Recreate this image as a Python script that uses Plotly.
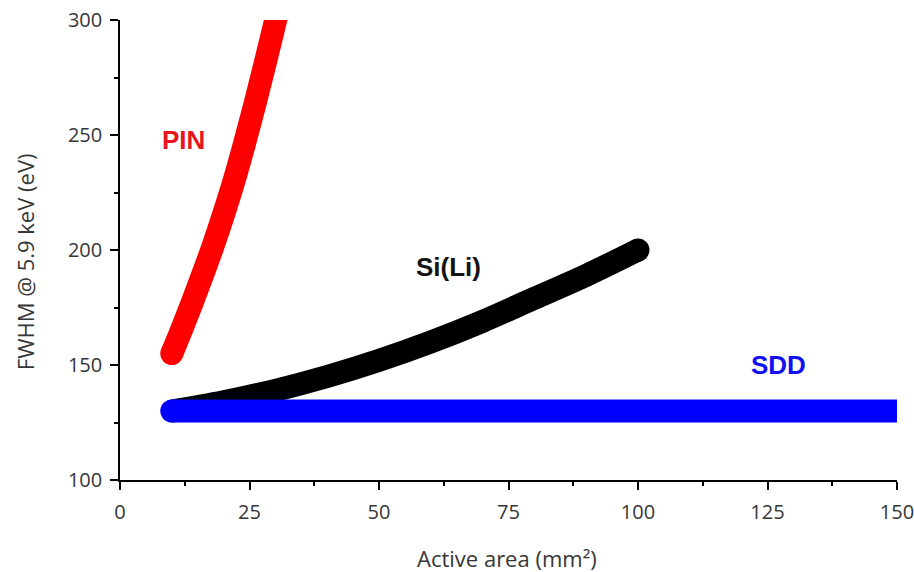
import plotly.graph_objects as go

# Energy resolution (FWHM at 5.9 keV) versus detector active area
pin_area = [10, 12, 14, 16, 18, 20, 22, 24, 26, 28, 30, 32]
pin_fwhm = [155, 166, 177.5, 189.5, 202, 215.5, 230, 246, 263, 281, 299.5, 318]

sili_area = [10, 20, 30, 40, 50, 60, 70, 80, 90, 100]
sili_fwhm = [130, 134, 139, 145, 152, 160, 169, 179, 189, 200]

sdd_area = [10, 150]
sdd_fwhm = [130, 130]

series_names = ["PIN", "Si(Li)", "SDD"]
series_colors = ["#ff0000", "#000000", "#0000ff"]
label_colors = ["#e8141e", "#141414", "#1010f0"]
label_pos = [(12.2, 248), (63.5, 192.5), (127.2, 150)]

x_ticks = [0, 25, 50, 75, 100, 125, 150]
y_ticks = [100, 150, 200, 250, 300]

LW = 23

fig = go.Figure()

curves = [(pin_area, pin_fwhm), (sili_area, sili_fwhm), (sdd_area, sdd_fwhm)]
# round end caps: PIN and SDD at their start, Si(Li) at its end
cap_index = [0, -1, 0]

for (xs, ys), name, col, ci in zip(curves, series_names, series_colors, cap_index):
    fig.add_trace(go.Scatter(
        x=xs, y=ys, mode="lines", name=name,
        line=dict(color=col, width=LW, shape="spline" if len(xs) > 2 else "linear"),
        showlegend=False, hoverinfo="skip",
    ))
    fig.add_trace(go.Scatter(
        x=[xs[ci]], y=[ys[ci]], mode="markers",
        marker=dict(color=col, size=LW, line=dict(width=0)),
        showlegend=False, hoverinfo="skip", cliponaxis=True,
    ))

for name, col, (lx, ly) in zip(series_names, label_colors, label_pos):
    fig.add_annotation(
        x=lx, y=ly, xref="x", yref="y", text="<b>" + name + "</b>", showarrow=False,
        font=dict(family="Liberation Sans, Arial", size=26, color=col),
        xanchor="center", yanchor="middle",
    )

TEXT_FAMILY = "Open Sans, Lato, sans-serif"
tick_font = dict(family=TEXT_FAMILY, size=20, color="#363636")

fig.add_annotation(
    x=0.498, y=-0.17, xref="paper", yref="paper", text="Active area (mm²)",
    showarrow=False, font=dict(family=TEXT_FAMILY, size=22, color="#363636"),
    xanchor="center", yanchor="middle",
)
fig.add_annotation(
    x=-0.122, y=0.474, xref="paper", yref="paper", text="FWHM @ 5.9 keV (eV)",
    showarrow=False, textangle=-90,
    font=dict(family=TEXT_FAMILY, size=22, color="#363636"),
    xanchor="center", yanchor="middle",
)

fig.update_xaxes(
    range=[0, 150], tickmode="array", tickvals=x_ticks, ticktext=[str(v) for v in x_ticks],
    ticks="outside", ticklen=8, tickwidth=1.5, tickcolor="#000",
    showline=True, linecolor="#000", linewidth=1.5, mirror=False,
    showgrid=False, zeroline=False, tickfont=tick_font, ticklabelstandoff=5,
    ticklabeloverflow="allow", automargin=False,
    minor=dict(dtick=12.5, tick0=0, ticks="outside", ticklen=4, tickwidth=1.5,
               tickcolor="#000", showgrid=False),
)
fig.update_yaxes(
    range=[100, 300], tickmode="array", tickvals=y_ticks, ticktext=[str(v) for v in y_ticks],
    ticks="outside", ticklen=8, tickwidth=1.5, tickcolor="#000",
    showline=True, linecolor="#000", linewidth=1.5, mirror=False,
    showgrid=False, zeroline=False, tickfont=tick_font, ticklabelstandoff=4,
    ticklabeloverflow="allow", automargin=False,
    minor=dict(dtick=25, tick0=100, ticks="outside", ticklen=4, tickwidth=1.5,
               tickcolor="#000", showgrid=False),
)

fig.update_layout(
    width=914, height=572,
    margin=dict(l=120, r=17, t=20, b=92, autoexpand=False),
    paper_bgcolor="white", plot_bgcolor="white",
)

fig.write_html("out.html")
